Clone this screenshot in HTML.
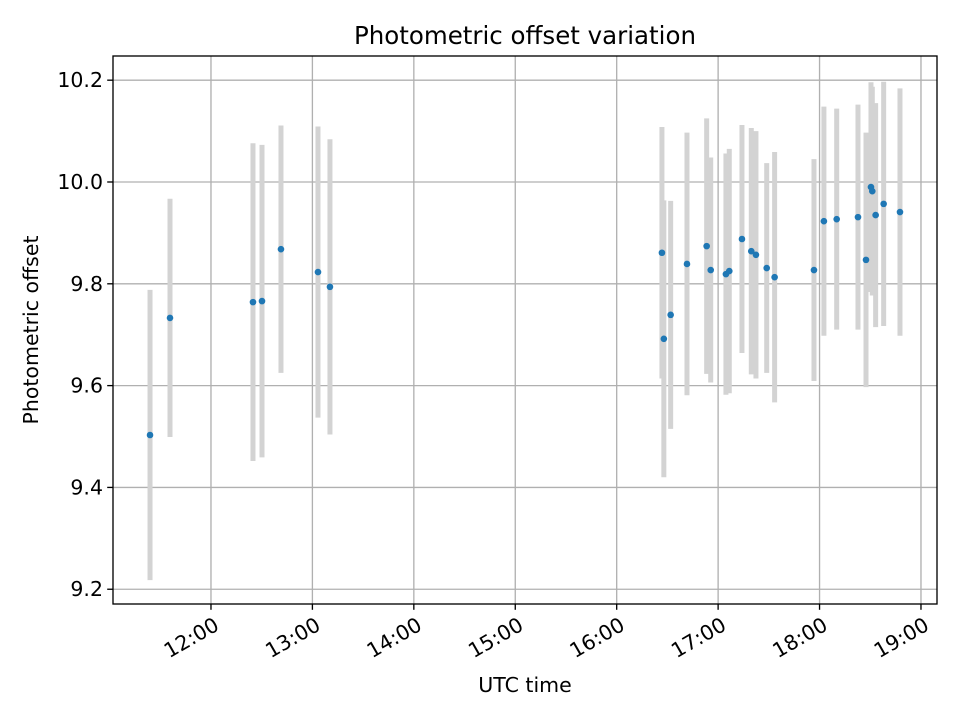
<!DOCTYPE html>
<html><head><meta charset="utf-8"><style>
body{margin:0;background:#fff}
svg{display:block;font-family:"DejaVu Sans","Liberation Sans",sans-serif}
</style></head><body>
<svg id="chart" width="960" height="720" viewBox="0 0 960 720">
<rect width="960" height="720" fill="#fff"/>
<g id="grid"></g><g id="bars"></g><g id="points"></g><g id="axes"></g>
</svg>
<script>
const times = [11.399,11.596,12.414,12.503,12.690,13.055,13.173,16.446,16.465,16.532,16.693,16.887,16.927,17.077,17.110,17.235,17.327,17.373,17.479,17.557,17.945,18.043,18.169,18.379,18.458,18.507,18.520,18.553,18.632,18.793];
const offsets = [9.503,9.733,9.764,9.766,9.868,9.823,9.794,9.861,9.692,9.739,9.839,9.874,9.827,9.819,9.825,9.888,9.864,9.857,9.831,9.813,9.827,9.923,9.927,9.931,9.847,9.990,9.982,9.935,9.957,9.941];
const errors = [0.285,0.234,0.312,0.307,0.243,0.286,0.290,0.247,0.272,0.224,0.258,0.251,0.221,0.237,0.240,0.224,0.242,0.243,0.206,0.246,0.218,0.225,0.217,0.221,0.250,0.206,0.205,0.220,0.240,0.243];
const yTicks = [9.2,9.4,9.6,9.8,10.0,10.2];
const yTickLabels = ["9.2","9.4","9.6","9.8","10.0","10.2"];
const xTicks = [12,13,14,15,16,17,18,19];
const xTickLabels = ["12:00","13:00","14:00","15:00","16:00","17:00","18:00","19:00"];

const L=113,R=937,T=56,B=604;
const xMin=11.034,xMax=19.158,yMin=9.171,yMax=10.2475;
const X=h=>L+(h-xMin)/(xMax-xMin)*(R-L);
const Y=v=>B-(v-yMin)/(yMax-yMin)*(B-T);
const NS="http://www.w3.org/2000/svg";
function mk(tag,attrs,parent){const e=document.createElementNS(NS,tag);for(const k in attrs)e.setAttribute(k,attrs[k]);parent.appendChild(e);return e;}
const grid=document.getElementById('grid'),bars=document.getElementById('bars'),pts=document.getElementById('points'),axes=document.getElementById('axes');
const svg=document.getElementById('chart');
const clip=mk('clipPath',{id:'pc'},svg);mk('rect',{x:L,y:T,width:R-L,height:B-T},clip);
bars.setAttribute('clip-path','url(#pc)');
const FS=20.5;

yTicks.forEach((v,i)=>{
  const y=Y(v);
  const g=mk('line',{x1:L,x2:R,y1:y,y2:y,stroke:'#b0b0b0','stroke-width':1.33},grid);
  
  
  mk('line',{x1:L-5.8,x2:L,y1:y,y2:y,stroke:'#000','stroke-width':1.33},axes);
  const t=mk('text',{x:L-10,y:y+7,'text-anchor':'end','font-size':FS,fill:'#000'},axes);
  t.textContent=yTickLabels[i];
  
  
});
xTicks.forEach((h,i)=>{
  const x=X(h);
  const g=mk('line',{x1:x,x2:x,y1:T,y2:B,stroke:'#b0b0b0','stroke-width':1.33},grid);
  
  
  mk('line',{x1:x,x2:x,y1:B,y2:B+5.8,stroke:'#000','stroke-width':1.33},axes);
  const ax=x+2, ay=B+12;
  const t=mk('text',{x:ax,y:ay+15,'text-anchor':'end','font-size':FS,fill:'#000',transform:`rotate(-30 ${ax} ${ay})`},axes);
  t.textContent=xTickLabels[i];
  
  
});
times.forEach((h,i)=>{
  const x=X(h);
  const b=mk('line',{x1:x,x2:x,y1:Y(offsets[i]+errors[i]),y2:Y(offsets[i]-errors[i]),stroke:'#d3d3d3','stroke-width':5},bars);
  
  
  const c=mk('circle',{cx:x,cy:Y(offsets[i]),r:3.3,fill:'#1f77b4'},pts);
  
  
});
const fr=mk('rect',{x:L,y:T,width:R-L,height:B-T,fill:'none',stroke:'#000','stroke-width':1.33},axes);


const ti=mk('text',{x:(L+R)/2,y:44,'text-anchor':'middle','font-size':24.5,fill:'#000'},axes);
ti.textContent='Photometric offset variation';


const xl=mk('text',{x:(L+R)/2,y:692,'text-anchor':'middle','font-size':FS,fill:'#000'},axes);
xl.textContent='UTC time';


const yl=mk('text',{x:38,y:(T+B)/2,'text-anchor':'middle','font-size':FS,fill:'#000',transform:`rotate(-90 38 ${(T+B)/2})`},axes);
yl.textContent='Photometric offset';


</script>
</body></html>
